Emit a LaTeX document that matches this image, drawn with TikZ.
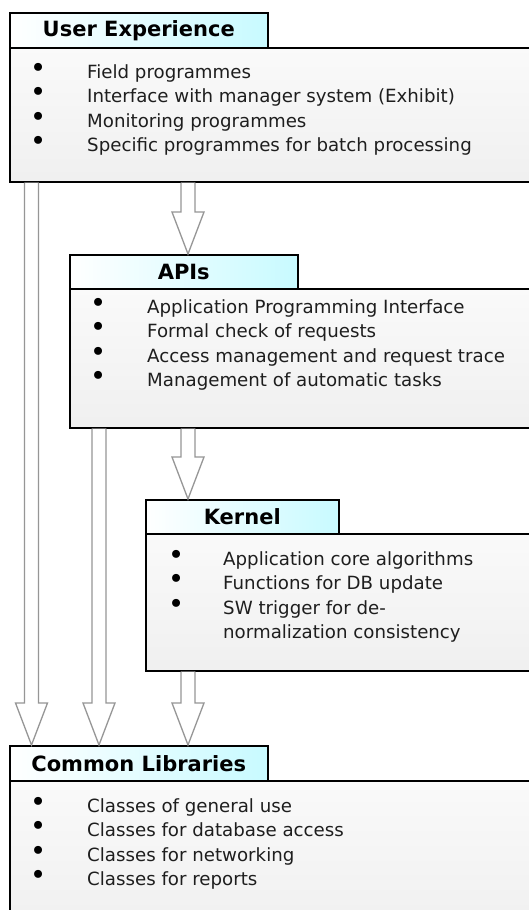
\documentclass[tikz,border=0pt]{standalone}
\usepackage{fontspec}
\setmainfont{DejaVu Sans}
\usetikzlibrary{positioning,calc}
\definecolor{lyCyan}{RGB}{200,250,255}
\definecolor{lyArrow}{RGB}{150,150,150}
\definecolor{lyText}{RGB}{30,30,30}
% hollow block arrow from #1 down to #2
\newcommand{\blockarrow}[2]{%
  \path[barrow] let \p1=(#1), \p2=(#2) in
    (\x1-7pt,\y1) -- (\x1-7pt,\y2+42pt) -- (\x1-16pt,\y2+42pt) -- (\x2,\y2)
    -- (\x1+16pt,\y2+42pt) -- (\x1+7pt,\y2+42pt) -- (\x1+7pt,\y1);}
\newcommand{\bl}{\raisebox{1pt}{\scalebox{1.5}{\color{black}\textbullet}}}

\begin{document}
\begin{tikzpicture}[
  x=1pt, y=-1pt,
  titlebox/.style={draw=black, line width=1.5pt, left color=white, right color=lyCyan, minimum height=35pt, anchor=north west, inner sep=0pt, font=\fontsize{21}{24}\selectfont\bfseries},
  bodybox/.style={draw=black, line width=1.5pt, top color=black!2, bottom color=black!6, anchor=north west, inner sep=0pt},
  itemlist/.style={anchor=base west, inner sep=0pt, text=lyText, font=\fontsize{18.2}{24.6}\selectfont},
]
\clip (0,0) rectangle (529,910);
\fill[white] (0,0) rectangle (529,910);
% user experience
\node[bodybox, minimum width=540pt, minimum height=134pt] (uxbody) at (9,47) {};
\node[titlebox, minimum width=258pt] (uxtitle) at (9,12) {User Experience};
\node[itemlist] (uxlist) at (30,78) {\begin{tabular}[t]{@{}p{57pt}@{}l@{}}
  \bl & Field programmes\\
  \bl & Interface with manager system (Exhibit)\\
  \bl & Monitoring programmes\\
  \bl & Specific programmes for batch processing
\end{tabular}};
% apis
\node[bodybox, minimum width=480pt, minimum height=139pt] (apibody) at (69,288) {};
\node[titlebox, minimum width=228pt, minimum height=34pt] (apititle) at (69,254) {APIs};
\node[itemlist] (apilist) at (90,313) {\begin{tabular}[t]{@{}p{57pt}@{}l@{}}
  \bl & Application Programming Interface\\
  \bl & Formal check of requests\\
  \bl & Access management and request trace\\
  \bl & Management of automatic tasks
\end{tabular}};
% kernel
\node[bodybox, minimum width=400pt, minimum height=137pt] (kerbody) at (145,533) {};
\node[titlebox, minimum width=193pt, minimum height=34pt] (kertitle) at (145,499) {Kernel};
\node[itemlist] (kerlist) at (168,565) {\begin{tabular}[t]{@{}p{55pt}@{}l@{}}
  \bl & Application core algorithms\\
  \bl & Functions for DB update\\
  \bl & SW trigger for de-\\
      & normalization consistency
\end{tabular}};
% common libraries
\node[bodybox, minimum width=540pt, minimum height=150pt] (combody) at (9,780) {};
\node[titlebox, minimum width=258pt] (comtitle) at (9,745) {Common Libraries};
\node[itemlist] (comlist) at (30,812) {\begin{tabular}[t]{@{}p{57pt}@{}l@{}}
  \bl & Classes of general use\\
  \bl & Classes for database access\\
  \bl & Classes for networking\\
  \bl & Classes for reports
\end{tabular}};
% arrows
\tikzset{barrow/.style={draw=lyArrow, fill=white, line width=1.3pt, line join=miter}}
\coordinate (xa) at (31.5,0);
\coordinate (xb) at (99,0);
\coordinate (xc) at (188,0);
\blockarrow{uxbody.south -| xa}{comtitle.north -| xa}
\blockarrow{uxbody.south -| xc}{apititle.north -| xc}
\blockarrow{apibody.south -| xc}{kertitle.north -| xc}
\blockarrow{apibody.south -| xb}{comtitle.north -| xb}
\blockarrow{kerbody.south -| xc}{comtitle.north -| xc}
\end{tikzpicture}
\end{document}
